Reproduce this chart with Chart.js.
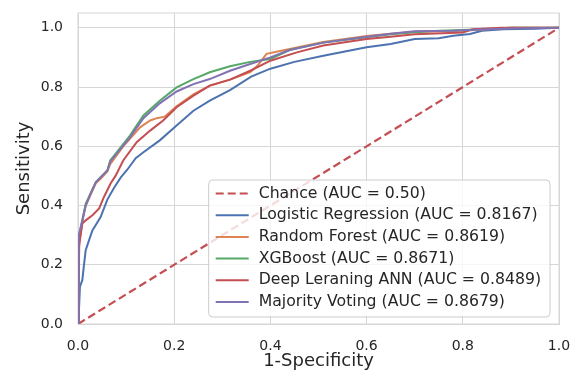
<!DOCTYPE html>
<html>
<head>
<meta charset="utf-8">
<script src="https://cdn.jsdelivr.net/npm/chart.js@4.4.1/dist/chart.umd.min.js"></script>
<style>
  html, body { margin: 0; padding: 0; background: #fff; }
  #wrap { width: 574px; height: 376px; }
</style>
</head>
<body>
<div id="wrap"><canvas id="rocChart" width="574" height="376"></canvas></div>
<script>
// tick labels
const xTicks = [0, 0.2, 0.4, 0.6, 0.8, 1.0];
const yTicks = [0, 0.2, 0.4, 0.6, 0.8, 1.0];

// chance line
const chanceFpr = [0, 1];
const chanceTpr = [0, 1];

// Logistic Regression
const lrFpr = [0, 0.002, 0.004, 0.009, 0.012, 0.016, 0.023, 0.03, 0.047, 0.061, 0.075, 0.089, 0.102, 0.12, 0.136, 0.17, 0.205, 0.24, 0.274, 0.316, 0.36, 0.40, 0.45, 0.51, 0.60, 0.65, 0.70, 0.75, 0.78, 0.815, 0.84, 0.885, 0.95, 1.0];
const lrTpr = [0, 0.047, 0.126, 0.148, 0.193, 0.249, 0.283, 0.316, 0.361, 0.42, 0.46, 0.495, 0.52, 0.56, 0.58, 0.62, 0.67, 0.72, 0.754, 0.79, 0.835, 0.862, 0.885, 0.906, 0.934, 0.945, 0.962, 0.965, 0.973, 0.979, 0.99, 0.995, 0.997, 1.0];

// Random Forest
const rfFpr = [0, 0.001, 0.003, 0.009, 0.016, 0.026, 0.037, 0.047, 0.061, 0.067, 0.094, 0.108, 0.129, 0.15, 0.164, 0.18, 0.205, 0.24, 0.274, 0.316, 0.358, 0.372, 0.392, 0.43, 0.51, 0.60, 0.65, 0.70, 0.80, 0.85, 0.9, 1.0];
const rfTpr = [0, 0.15, 0.28, 0.345, 0.40, 0.435, 0.475, 0.49, 0.515, 0.54, 0.60, 0.625, 0.664, 0.687, 0.695, 0.70, 0.735, 0.775, 0.805, 0.825, 0.85, 0.87, 0.912, 0.925, 0.952, 0.972, 0.98, 0.987, 0.99, 0.995, 1.0, 1.0];

// XGBoost
const xgbFpr = [0, 0.001, 0.002, 0.009, 0.016, 0.026, 0.037, 0.047, 0.061, 0.067, 0.108, 0.136, 0.17, 0.205, 0.24, 0.274, 0.316, 0.358, 0.40, 0.44, 0.51, 0.60, 0.65, 0.70, 0.75, 0.80, 0.85, 0.9, 1.0];
const xgbTpr = [0, 0.16, 0.29, 0.35, 0.406, 0.44, 0.479, 0.496, 0.518, 0.552, 0.636, 0.704, 0.754, 0.799, 0.827, 0.85, 0.87, 0.885, 0.895, 0.925, 0.95, 0.968, 0.978, 0.985, 0.99, 0.993, 0.996, 1.0, 1.0];

// Deep Learning ANN
const annFpr = [0, 0.001, 0.002, 0.009, 0.016, 0.03, 0.044, 0.054, 0.068, 0.078, 0.094, 0.122, 0.15, 0.177, 0.205, 0.24, 0.274, 0.316, 0.358, 0.40, 0.455, 0.51, 0.60, 0.65, 0.70, 0.80, 0.82, 0.88, 1.0];
const annTpr = [0, 0.20, 0.256, 0.339, 0.35, 0.367, 0.39, 0.429, 0.475, 0.50, 0.552, 0.614, 0.653, 0.687, 0.732, 0.771, 0.805, 0.825, 0.855, 0.889, 0.917, 0.94, 0.962, 0.97, 0.978, 0.984, 0.995, 1.0, 1.0];

// Majority Voting
const mvFpr = [0, 0.001, 0.002, 0.009, 0.016, 0.026, 0.037, 0.047, 0.061, 0.067, 0.108, 0.136, 0.17, 0.205, 0.24, 0.274, 0.316, 0.358, 0.40, 0.44, 0.51, 0.60, 0.65, 0.70, 0.78, 0.85, 0.9, 1.0];
const mvTpr = [0, 0.14, 0.30, 0.35, 0.40, 0.44, 0.478, 0.495, 0.518, 0.548, 0.63, 0.695, 0.745, 0.785, 0.81, 0.827, 0.855, 0.878, 0.90, 0.925, 0.95, 0.97, 0.98, 0.988, 0.99, 0.995, 0.998, 1.0];

function pts(xs, ys) {
    return xs.map(function (x, i) { return { x: x, y: ys[i] }; });
}

function curve(label, xs, ys, color, order) {
    return {
        label: label,
        data: pts(xs, ys),
        borderColor: color,
        backgroundColor: color,
        borderWidth: 2,
        pointRadius: 0,
        showLine: true,
        fill: false,
        order: order
    };
}

var chance = curve('Chance (AUC = 0.50)', chanceFpr, chanceTpr, '#C44E52', 6);
chance.borderDash = [8, 4];
chance.borderWidth = 2.2;

var datasets = [
    chance,
    curve('Logistic Regression (AUC = 0.8167)', lrFpr, lrTpr, '#4C72B0', 5),
    curve('Random Forest (AUC = 0.8619)', rfFpr, rfTpr, '#DD8452', 4),
    curve('XGBoost (AUC = 0.8671)', xgbFpr, xgbTpr, '#55A868', 3),
    curve('Deep Leraning ANN (AUC = 0.8489)', annFpr, annTpr, '#C44E52', 2),
    curve('Majority Voting (AUC = 0.8679)', mvFpr, mvTpr, '#8172B3', 1)
];

var textColor = '#262626';
var gridColor = '#d6d6d6';
var fontFamily = '"DejaVu Sans", sans-serif';

// legend drawn inside the plot, lower right, like matplotlib
const boxLegend = {
    id: 'boxLegend',
    afterDatasetsDraw(chart) {
        const c = chart.ctx;
        const area = chart.chartArea;
        c.save();
        c.font = '15.7px ' + fontFamily;
        let maxW = 0;
        chart.data.datasets.forEach(function (d) {
            maxW = Math.max(maxW, c.measureText(d.label).width);
        });
        const rowH = 21.7;
        const w = 50 + maxW + 9;
        const h = 137;
        const x0 = area.right - 9 - w;
        const y0 = area.bottom - 7 - h;
        c.beginPath();
        c.roundRect(x0, y0, w, h, 4);
        c.fillStyle = 'rgba(255,255,255,0.8)';
        c.fill();
        c.strokeStyle = '#cccccc';
        c.lineWidth = 1;
        c.stroke();
        chart.data.datasets.forEach(function (d, i) {
            const y = y0 + 13.5 + i * rowH;
            c.beginPath();
            c.setLineDash(d.borderDash || []);
            c.strokeStyle = d.borderColor;
            c.lineWidth = d.borderWidth;
            c.moveTo(x0 + 7, y);
            c.lineTo(x0 + 40, y);
            c.stroke();
            c.setLineDash([]);
            c.fillStyle = textColor;
            c.textBaseline = 'middle';
            c.textAlign = 'left';
            c.fillText(d.label, x0 + 50, y);
        });
        c.restore();
    }
};

// top and right spines
const frame = {
    id: 'frame',
    beforeDatasetsDraw(chart) {
        const a = chart.chartArea;
        const c = chart.ctx;
        c.save();
        c.strokeStyle = gridColor;
        c.lineWidth = 1;
        c.strokeRect(a.left, a.top, a.right - a.left, a.bottom - a.top);
        c.restore();
    }
};

function noPad(s) {
    s.paddingTop = 0;
    s.paddingBottom = 0;
    s.paddingLeft = 0;
    s.paddingRight = 0;
}

new Chart(document.getElementById('rocChart'), {
    type: 'scatter',
    data: { datasets: datasets },
    plugins: [frame, boxLegend],
    options: {
        responsive: false,
        animation: false,
        devicePixelRatio: 1,
        layout: { padding: { left: 0, right: 15, top: 13, bottom: 0 } },
        plugins: {
            legend: { display: false },
            tooltip: { enabled: false }
        },
        scales: {
            x: {
                type: 'linear',
                min: 0,
                max: 1,
                afterBuildTicks: function (s) { s.ticks = xTicks.map(function (v) { return { value: v }; }); },
                afterFit: function (s) { s.height = 52; noPad(s); },
                ticks: {
                    color: textColor,
                    font: { family: fontFamily, size: 14 },
                    padding: 14,
                    maxRotation: 0,
                    callback: function (v) { return v.toFixed(1); }
                },
                grid: { color: gridColor, drawTicks: false },
                border: { color: gridColor },
                title: {
                    display: true,
                    text: '1-Specificity',
                    color: textColor,
                    font: { family: fontFamily, size: 18, lineHeight: 1 },
                    padding: { top: 0, bottom: 6 }
                }
            },
            y: {
                type: 'linear',
                min: 0,
                max: 1.05,
                afterBuildTicks: function (s) { s.ticks = yTicks.map(function (v) { return { value: v }; }); },
                afterFit: function (s) { s.width = 78; noPad(s); },
                ticks: {
                    color: textColor,
                    font: { family: fontFamily, size: 14 },
                    padding: 15,
                    callback: function (v) { return v.toFixed(1); }
                },
                grid: { color: gridColor, drawTicks: false },
                border: { color: gridColor },
                title: {
                    display: true,
                    text: 'Sensitivity',
                    color: textColor,
                    font: { family: fontFamily, size: 18, lineHeight: 1 },
                    padding: { top: 15, bottom: 0 }
                }
            }
        }
    }
});
</script>
</body>
</html>
